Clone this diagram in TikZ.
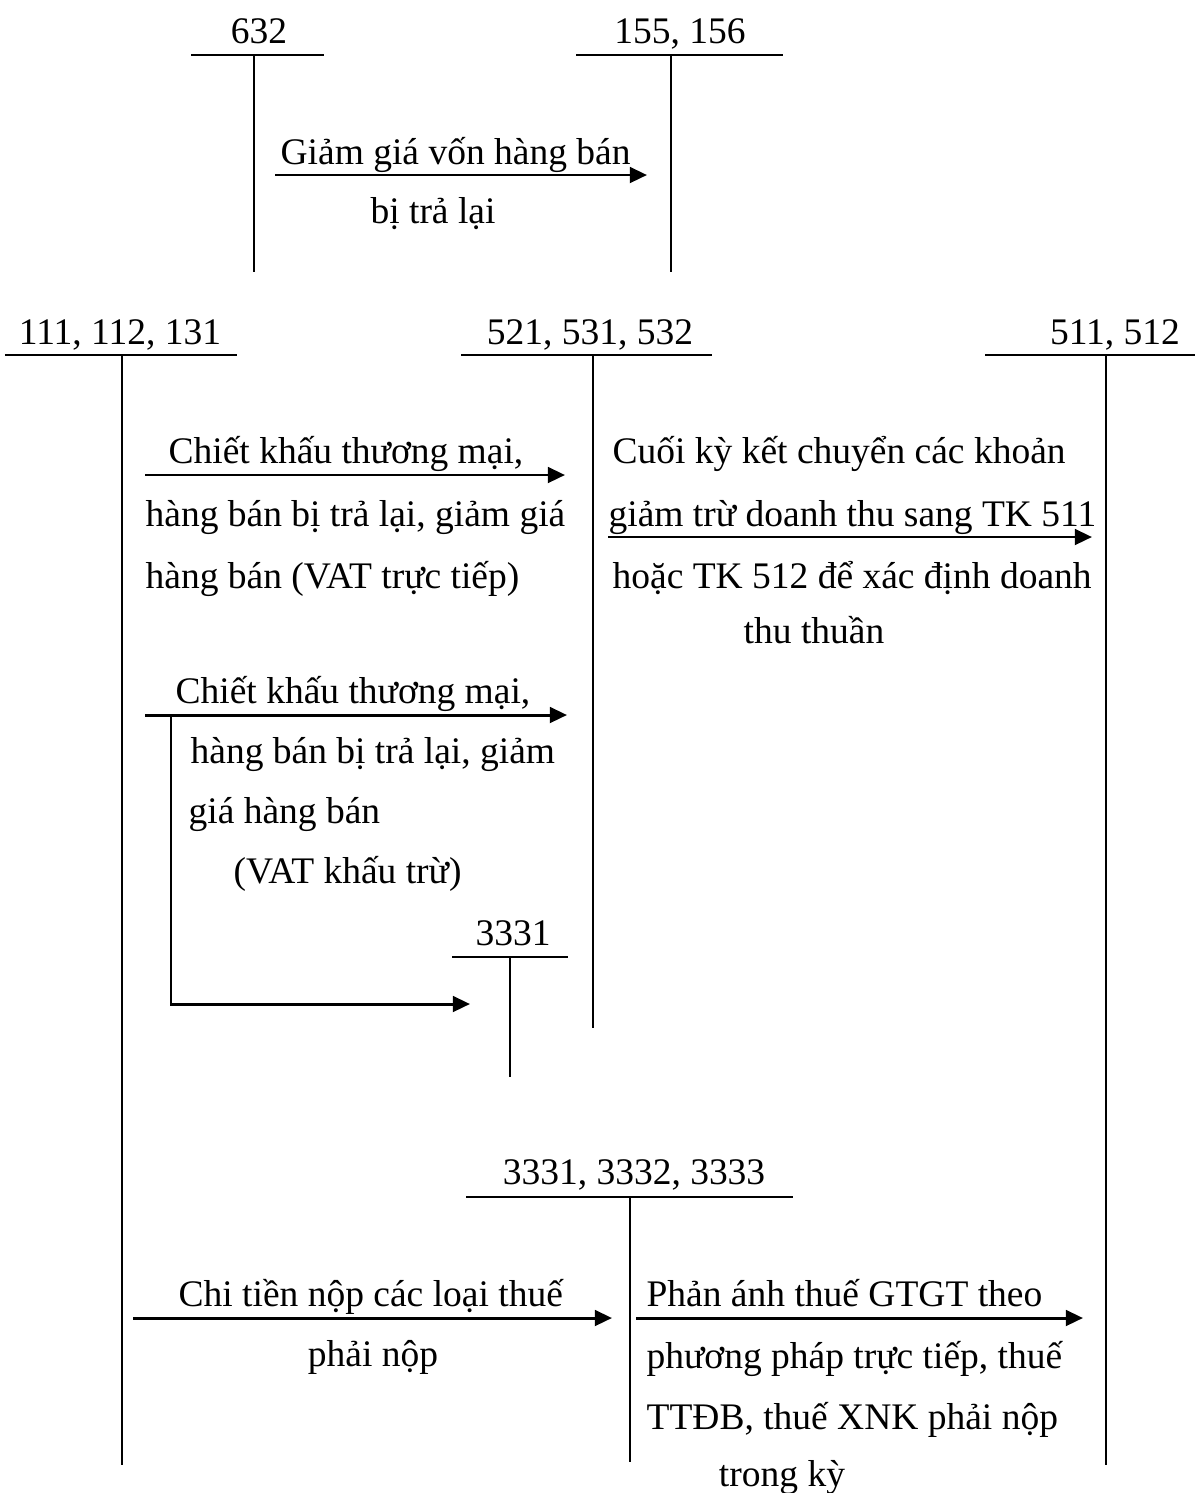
\documentclass[tikz,border=0pt]{standalone}
\usepackage{fontspec}
\setmainfont{Liberation Serif}
\usepackage{tikz}
\usetikzlibrary{arrows.meta}

\begin{document}
\begin{tikzpicture}[
  x=0.32pt, y=-0.32pt,
  font=\fontsize{12}{14}\selectfont,
  acc/.style={anchor=base, inner sep=0pt},
  txt/.style={anchor=base west, inner sep=0pt},
  ctxt/.style={anchor=base, inner sep=0pt},
  tbar/.style={line width=0.75pt},
  tleg/.style={line width=0.5pt},
  flow/.style={line width=0.95pt, -{Triangle[length=5.5pt,width=5pt]}}
]
\useasboundingbox (0,0) rectangle (1195,1493);

% T accounts, top row
\node[acc] (t632) at (259,43) {632};
\draw[tbar] (191,55) -- (324,55);
\draw[tleg] (254,55) -- (254,272);
\node[acc] (t155) at (680,43) {155, 156};
\draw[tbar] (576,55) -- (783,55);
\draw[tleg] (671,55) -- (671,272);

% T accounts, second row
\node[acc] (t111) at (120,344) {111, 112, 131};
\draw[tbar] (5,355) -- (237,355);
\draw[tleg] (122,355) -- (122,1465);
\node[acc] (t521) at (590,344) {521, 531, 532};
\draw[tbar] (461,355) -- (712,355);
\draw[tleg] (593,355) -- (593,1028);
\node[acc] (t511) at (1115,344) {511, 512};
\draw[tbar] (985,355) -- (1195,355);
\draw[tleg] (1106,355) -- (1106,1465);

% T accounts, lower part
\node[acc] (t3331) at (513,945) {3331};
\draw[tbar] (452,957) -- (568,957);
\draw[tleg] (510,957) -- (510,1077);
\node[acc] (t333x) at (634,1184) {3331, 3332, 3333};
\draw[tbar] (466,1197) -- (793,1197);
\draw[tleg] (630,1197) -- (630,1462);

% arrow ends
\coordinate (g1) at (275,175);   \coordinate (g2) at (647,175);
\coordinate (c1) at (145,475);   \coordinate (c2) at (565,475);
\coordinate (k1) at (608,537);   \coordinate (k2) at (1092,537);
\coordinate (d1) at (145,715);   \coordinate (d2) at (567,715);
\coordinate (v0) at (171,715);   \coordinate (v1) at (171,1004);
\coordinate (v2) at (470,1004);
\coordinate (n1) at (133,1318);  \coordinate (n2) at (612,1318);
\coordinate (p1) at (636,1318);  \coordinate (p2) at (1083,1318);

\draw[flow] (g1) -- (g2);
\draw[flow] (c1) -- (c2);
\draw[flow] (k1) -- (k2);
\draw[flow] (d1) -- (d2);
\draw[flow] (v0) -- (v1) -- (v2);
\draw[flow] (n1) -- (n2);
\draw[flow] (p1) -- (p2);

% labels
\node[txt] (lg1) at (280,164) {Giảm giá vốn hàng bán};
\node[ctxt] (lg2) at (433,223) {bị trả lại};

\node[txt] (lc1) at (168,463) {Chiết khấu thương mại,};
\node[txt] (lc2) at (145,526) {hàng bán bị trả lại, giảm giá};
\node[txt] (lc3) at (145,588) {hàng bán (VAT trực tiếp)};

\node[txt] (lk1) at (612,463) {Cuối kỳ kết chuyển các khoản};
\node[txt] (lk2) at (608,526) {giảm trừ doanh thu sang TK 511};
\node[txt] (lk3) at (612,588) {hoặc TK 512 để xác định doanh};
\node[ctxt] (lk4) at (814,643) {thu thuần};

\node[txt] (ld1) at (175,703) {Chiết khấu thương mại,};
\node[txt] (ld2) at (190,763) {hàng bán bị trả lại, giảm};
\node[txt] (ld3) at (188,823) {giá hàng bán};
\node[txt] (ld4) at (233,883) {(VAT khấu trừ)};

\node[txt] (ln1) at (178,1306) {Chi tiền nộp các loại thuế};
\node[ctxt] (ln2) at (373,1366) {phải nộp};

\node[txt] (lp1) at (646,1306) {Phản ánh thuế GTGT theo};
\node[txt] (lp2) at (646,1368) {phương pháp trực tiếp, thuế};
\node[txt] (lp3) at (646,1429) {TTĐB, thuế XNK phải nộp};
\node[ctxt] (lp4) at (782,1486) {trong kỳ};
\end{tikzpicture}
\end{document}
